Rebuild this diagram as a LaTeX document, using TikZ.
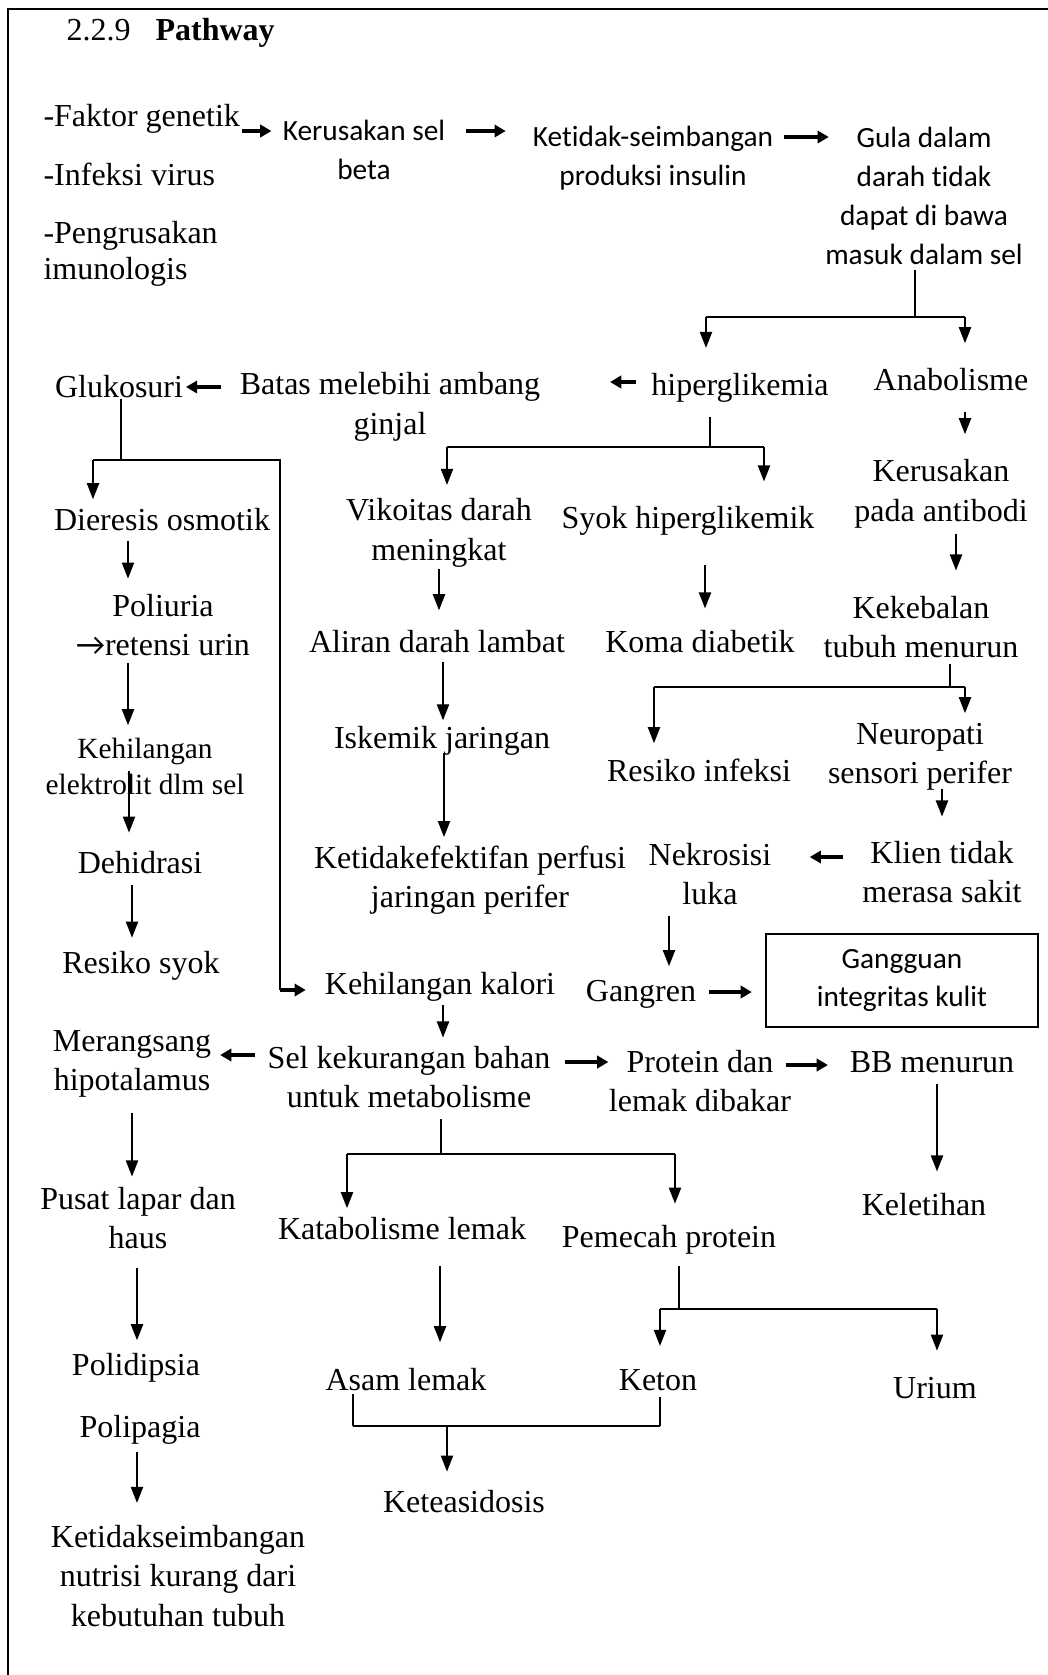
\documentclass[tikz,border=0pt]{standalone}
\usepackage{fontspec}
\setmainfont{Liberation Serif}
\newfontfamily\calfont[Ligatures=NoCommon]{Carlito}
\usepackage{tikz}
\usetikzlibrary{arrows.meta}
\newcommand{\tnr}{\fontsize{12pt}{14.8pt}\selectfont}
\newcommand{\tnrsm}{\fontsize{11pt}{13.5pt}\selectfont}
\newcommand{\tnrrap}{\fontsize{12pt}{13.6pt}\selectfont}
\newcommand{\clb}{\calfont\fontsize{11pt}{14.55pt}\selectfont}
\tikzset{
  lbl/.style={align=center, inner sep=0pt, font=\tnr},
  lblsm/.style={align=center, inner sep=0pt, font=\tnrsm},
  lblleft/.style={align=left, anchor=west, inner sep=0pt, font=\tnr},
  calb/.style={align=center, inner sep=0pt, font=\clb},
  kotak/.style={calb, draw, line width=0.8pt, minimum width=102pt, minimum height=34.9pt},
  arr/.style={-{Triangle[length=6pt,width=4.6pt]}, line width=0.5pt},
  harr/.style={-{Triangle[length=4.2pt,width=4.6pt]}, line width=1.2pt},
  brk/.style={line width=0.45pt},
  hbrk/.style={line width=0.75pt}
}
\begin{document}
\begin{tikzpicture}[x=0.375pt, y=-0.375pt]
    \useasboundingbox (0,0) rectangle (1048,1675);
    \draw[line width=0.9pt] (1048,9) -- (8,9) -- (8,1675);

    \node[lbl, anchor=base west] (judul) at (66,40) {2.2.9\hspace{9.4pt}\textbf{Pathway}};

    \node[lblleft] (fak) at (43,119) {-Faktor genetik};
    \node[lblleft] (inf) at (43,174) {-Infeksi virus};
    \node[lblleft, font=\tnrrap] (peng) at (43,254) {-Pengrusakan\\imunologis};
    \node[calb] (kerus) at (364,150) {Kerusakan sel\\beta};
    \node[calb] (ketseim) at (653,158) {Ketidak-seimbangan\\produksi insulin};
    \node[calb] (gula) at (924,196) {Gula dalam\\darah tidak\\dapat di bawa\\masuk dalam sel};

    \node[lbl] (hiper) at (740,388) {hiperglikemia};
    \node[lbl] (anab) at (951,380) {Anabolisme};
    \node[lbl] (batas) at (390,407) {Batas melebihi ambang\\ginjal};
    \node[lbl] (gluk) at (119,387) {Glukosuri};

    \node[lbl] (dier) at (162,520) {Dieresis osmotik};
    \node[lbl] (poli) at (163,625) {Poliuria\\{\calfont →}retensi urin};
    \node[lblsm] (kehel) at (145,766) {Kehilangan\\elektrolit dlm sel};
    \node[lbl] (dehid) at (140,863) {Dehidrasi};
    \node[lbl] (rsyok) at (141,966) {Resiko syok};

    \node[lbl] (vis) at (439,533) {Vikoitas darah\\meningkat};
    \node[lbl] (syok) at (688,521) {Syok hiperglikemik};
    \node[lbl] (aliran) at (437,642) {Aliran darah lambat};
    \node[lbl] (koma) at (700,642) {Koma diabetik};
    \node[lbl] (iskem) at (442,741) {Iskemik jaringan};
    \node[lbl] (perf) at (470,880) {Ketidakefektifan perfusi\\jaringan perifer};
    \node[lbl] (kalori) at (440,987) {Kehilangan kalori};

    \node[lbl] (kerab) at (941,494) {Kerusakan\\pada antibodi};
    \node[lbl] (kekeb) at (921,627) {Kekebalan\\tubuh menurun};
    \node[lbl] (rinf) at (699,770) {Resiko infeksi};
    \node[lbl] (neuro) at (920,757) {Neuropati\\sensori perifer};
    \node[lbl] (klien) at (942,872) {Klien tidak\\merasa sakit};
    \node[lbl] (nekro) at (710,874) {Nekrosisi\\luka};
    \node[lbl] (gangr) at (641,994) {Gangren};
    \node[kotak] (ggn) at (902,980.5) {Gangguan\\integritas kulit};

    \node[lbl] (meran) at (132,1064) {Merangsang\\hipotalamus};
    \node[lbl] (selkur) at (409,1077) {Sel kekurangan bahan\\untuk metabolisme};
    \node[lbl] (prot) at (700,1081) {Protein dan\\lemak dibakar};
    \node[lbl] (bb) at (932,1062) {BB menurun};
    \node[lbl] (letih) at (924,1205) {Keletihan};
    \node[lbl] (katab) at (402,1229) {Katabolisme lemak};
    \node[lbl] (pemec) at (669,1240) {Pemecah protein};
    \node[lbl] (asam) at (406,1380) {Asam lemak};
    \node[lbl] (keton) at (658,1380) {Keton};
    \node[lbl] (urium) at (935,1388) {Urium};
    \node[lbl] (ketea) at (464,1502) {Keteasidosis};

    \node[lbl] (pusat) at (138,1218) {Pusat lapar dan\\haus};
    \node[lbl] (polid) at (136,1368) {Polidipsia};
    \node[lbl] (polip) at (140,1430) {Polipagia};
    \node[lbl] (nutri) at (178,1576) {Ketidakseimbangan\\nutrisi kurang dari\\kebutuhan tubuh};

    \coordinate (gulaj) at (915,317);
    \coordinate (gulal) at (706,317);
    \coordinate (gular) at (965,317);
    \coordinate (gluj) at (121,460);
    \coordinate (glul) at (93,460);
    \coordinate (glur) at (280,460);
    \coordinate (gluk2) at (280,990);
    \coordinate (hiperj) at (710,447);
    \coordinate (hiperl) at (447,447);
    \coordinate (hiperr) at (764,447);
    \coordinate (kekj) at (950,687);
    \coordinate (kekl) at (654,687);
    \coordinate (kekr) at (965,687);
    \coordinate (selj) at (441,1154);
    \coordinate (sell) at (347,1154);
    \coordinate (selr) at (675,1154);
    \coordinate (pemj) at (679,1309);
    \coordinate (peml) at (660,1309);
    \coordinate (pemr) at (937,1309);
    \coordinate (asj) at (353,1426);
    \coordinate (ketj) at (660,1426);
    \coordinate (ketm) at (447,1426);

    \draw[harr, shorten <=0.75pt, shorten >=4.1pt] (fak.east |- 0,131) -- (kerus.west |- 0,131);
    \draw[harr, shorten <=7.7pt, shorten >=10pt] (kerus.east |- 0,131) -- (ketseim.west |- 0,131);
    \draw[harr, shorten <=4pt, shorten >=-1.5pt] (ketseim.east |- 0,137) -- (gula.west |- 0,137);
    \draw[harr, shorten <=5.5pt, shorten >=26pt] (hiper.west |- 0,382) -- (batas.east |- 0,382);
    \draw[harr, shorten <=6.8pt, shorten >=0.9pt] (batas.west |- 0,387) -- (gluk.east |- 0,387);
    \draw[harr, shorten <=4.5pt, shorten >=3.2pt] (selkur.west |- 0,1055) -- (meran.east |- 0,1055);
    \draw[harr, shorten <=5.2pt, shorten >=0pt] (selkur.east |- 0,1062) -- (prot.west |- 0,1062);
    \draw[harr, shorten <=-2pt, shorten >=8pt] (prot.east |- 0,1065) -- (bb.west |- 0,1065);
    \draw[harr, shorten <=7.1pt, shorten >=14.2pt] (klien.west |- 0,857) -- (nekro.east |- 0,857);
    \draw[harr, shorten <=4.7pt, shorten >=4.9pt] (gangr.east |- 0,992) -- (ggn.west |- 0,992);

    \draw[brk, shorten <=1.7pt] (gula.south -| gulaj) -- (gulaj);
    \draw[hbrk] (gulal) -- (gular);
    \draw[arr, shorten >=9.4pt] (gulal) -- (hiper.north -| gulal);
    \draw[arr, shorten >=9.4pt] (gular) -- (anab.north -| gular);
    \draw[arr, shorten <=7.5pt, shorten >=9.4pt] (anab.south -| 965,0) -- (kerab.north -| 965,0);
    \draw[arr, shorten <=2pt, shorten >=9.4pt] (kerab.south -| 956,0) -- (kekeb.north -| 956,0);
    \draw[brk, shorten <=1.9pt] (kekeb.south -| kekj) -- (kekj);
    \draw[hbrk] (kekl) -- (kekr);
    \draw[arr, shorten >=5.6pt] (kekl) -- (rinf.north -| kekl);
    \draw[arr, shorten >=3.6pt] (kekr) -- (neuro.north -| kekr);
    \draw[arr, shorten <=-1pt, shorten >=9pt] (neuro.south -| 942,0) -- (klien.north -| 942,0);
    \draw[arr, shorten <=3.75pt, shorten >=5pt] (nekro.south -| 669,0) -- (gangr.north -| 669,0);

    \draw[brk, shorten <=5.4pt] (hiper.south -| hiperj) -- (hiperj);
    \draw[hbrk] (hiperl) -- (hiperr);
    \draw[arr, shorten >=5pt] (hiperl) -- (vis.north -| hiperl);
    \draw[arr, shorten >=9.2pt] (hiperr) -- (syok.north -| hiperr);
    \draw[arr, shorten <=0.5pt, shorten >=7.5pt] (vis.south -| 439,0) -- (aliran.north -| 439,0);
    \draw[arr, shorten <=11pt, shorten >=8.2pt] (syok.south -| 705,0) -- (koma.north -| 705,0);
    \draw[arr, shorten <=3pt, shorten >=2.1pt] (aliran.south -| 443,0) -- (iskem.north -| 443,0);
    \draw[arr, shorten <=-1pt, shorten >=3pt] (iskem.south -| 444,0) -- (perf.north -| 444,0);
    \draw[arr, shorten <=1.2pt, shorten >=3pt] (kalori.south -| 443,0) -- (selkur.north -| 443,0);

    \draw[brk] (gluk.south -| gluj) -- (gluj);
    \draw[brk] (glul) -- (glur) -- (gluk2);
    \draw[arr, shorten >=3.4pt] (glul) -- (dier.north -| glul);
    \draw[harr, shorten >=7pt] (gluk2) -- (kalori.west |- gluk2);
    \draw[arr, shorten <=3.4pt, shorten >=5.6pt] (dier.south -| 128,0) -- (poli.north -| 128,0);
    \draw[arr, shorten <=2.6pt, shorten >=4.5pt] (poli.south -| 128,0) -- (kehel.north -| 128,0);
    \draw[arr, shorten <=1.9pt, shorten >=7pt] (kehel.center -| 129,0) -- (dehid.north -| 129,0);
    \draw[arr, shorten <=4pt, shorten >=5pt] (dehid.south -| 132,0) -- (rsyok.north -| 132,0);

    \draw[brk, shorten <=4pt] (selkur.south -| selj) -- (selj);
    \draw[hbrk] (sell) -- (selr);
    \draw[arr, shorten >=3.4pt] (sell) -- (katab.north -| sell);
    \draw[arr, shorten >=8pt] (selr) -- (pemec.north -| selr);
    \draw[arr, shorten <=9.4pt, shorten >=9.8pt] (katab.south -| 440,0) -- (asam.north -| 440,0);
    \draw[brk, shorten <=4.2pt] (pemec.south -| pemj) -- (pemj);
    \draw[hbrk] (peml) -- (pemr);
    \draw[arr, shorten >=8.6pt] (peml) -- (keton.north -| peml);
    \draw[arr, shorten >=9.8pt] (pemr) -- (urium.north -| pemr);
    \draw[brk, shorten <=1pt] (asam.south -| asj) -- (asj);
    \draw[brk, shorten <=2pt] (keton.south -| ketj) -- (ketj);
    \draw[hbrk] (asj) -- (ketj);
    \draw[arr, shorten >=7pt] (ketm) -- (ketea.north -| ketm);
    \draw[arr, shorten <=4pt, shorten >=8.2pt] (bb.south -| 937,0) -- (letih.north -| 937,0);

    \draw[arr, shorten <=5.6pt, shorten >=3.75pt] (meran.south -| 132,0) -- (pusat.north -| 132,0);
    \draw[arr, shorten <=7pt, shorten >=4.8pt] (pusat.south -| 137,0) -- (polid.north -| 137,0);
    \draw[arr, shorten <=2.6pt, shorten >=8.2pt] (polip.south -| 137,0) -- (nutri.north -| 137,0);
\end{tikzpicture}
\end{document}
